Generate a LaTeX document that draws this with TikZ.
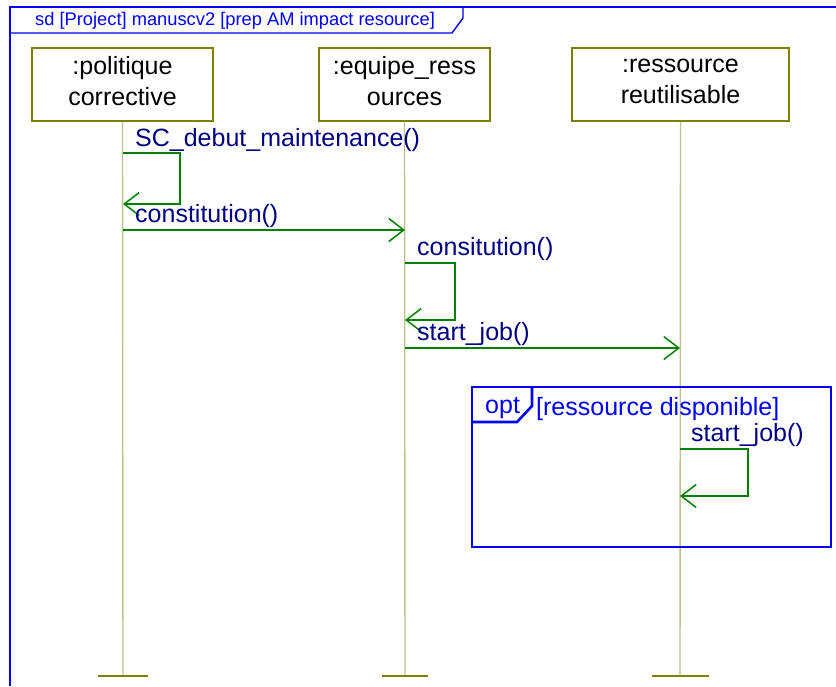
\documentclass[tikz,border=0pt]{standalone}
\usepackage{fontspec}
\setmainfont{Liberation Sans}
\usetikzlibrary{arrows.meta}
\definecolor{framblue}{RGB}{0,0,250}
\definecolor{msgtext}{RGB}{0,0,128}
\definecolor{msggreen}{RGB}{0,128,0}
\definecolor{boxolive}{RGB}{128,128,0}
\definecolor{lifekhaki}{RGB}{192,192,140}
\definecolor{barolive}{RGB}{128,128,0}
\tikzset{
  lifebox/.style={draw=boxolive, line width=1.6pt, fill=white, inner sep=0pt},
  boxtext/.style={inner sep=0pt, font=\fontsize{25}{31}\selectfont, align=center, text=black},
  lifeline/.style={draw=lifekhaki, line width=1.4pt},
  endbar/.style={draw=barolive, line width=2.6pt},
  msg/.style={draw=msggreen, line width=1.5pt, -{Straight Barb[length=15pt,width=23pt,line width=1.5pt]}},
  msglabel/.style={anchor=base west, text=msgtext, font=\fontsize{25}{30}\selectfont, inner sep=0pt},
  frameline/.style={draw=framblue, line width=1.4pt},
  optline/.style={draw=framblue, line width=2.6pt},
}
\begin{document}
\begin{tikzpicture}[x=1pt, y=-1pt]
\useasboundingbox (0,0) rectangle (836,686);

% outer sequence-diagram frame and its title tab
\draw[frameline] (836,7) -- (10,7) -- (10,686);
\draw[frameline] (10,33) -- (452,33) -- (463,18) -- (463,7);
\node[anchor=base west, text=framblue, font=\fontsize{18.3}{22}\selectfont, inner sep=0pt]
  (title) at (35,25) {sd [Project] manuscv2 [prep AM impact resource]};

% lifeline heads
\node[lifebox, minimum width=181pt, minimum height=73pt] (pc) at (122.5,84.5) {};
\node[lifebox, minimum width=171pt, minimum height=73pt] (er) at (404.5,84.5) {};
\node[lifebox, minimum width=217pt, minimum height=73pt] (rr) at (680.5,84.5) {};
\node[boxtext] (pct) at (122.5,81) {:politique\\corrective};
\node[boxtext] (ert) at (404.5,81) {:equipe\_ress\\ources};
\node[boxtext] (rrt) at (680.5,81) {:ressource\\reutilisable};

% lifeline feet
\coordinate (pcend) at (123,676);
\coordinate (erend) at (405,676);
\coordinate (rrend) at (680,676);
\draw[lifeline] (pc.south) -- (pcend);
\draw[lifeline] (er.south) -- (erend);
\draw[lifeline] (rr.south) -- (rrend);
\draw[endbar] (98,676) -- (148,676);
\draw[endbar] (382,676) -- (428,676);
\draw[endbar] (652,676) -- (709,676);

% messages
\coordinate (m1a) at (123,153);
\coordinate (m1b) at (123,204);
\draw[msg] (m1a) -- (180,153) -- (180,204) -- (m1b);
\node[msglabel] (l1) at (135,146) {SC\_debut\_maintenance()};

\coordinate (m2a) at (123,230);
\coordinate (m2b) at (405,230);
\draw[msg] (m2a) -- (m2b);
\node[msglabel] (l2) at (135,222) {constitution()};

\coordinate (m3a) at (405,263);
\coordinate (m3b) at (405,320);
\draw[msg] (m3a) -- (455,263) -- (455,320) -- (m3b);
\node[msglabel] (l3) at (417,255) {consitution()};

\coordinate (m4a) at (405,348);
\coordinate (m4b) at (680,348);
\draw[msg] (m4a) -- (m4b);
\node[msglabel] (l4) at (417,340) {start\_job()};

% optional combined fragment
\draw[optline] (472,387) rectangle (831,547);
\draw[optline] (472,422) -- (517,422) -- (532,406) -- (532,387);
\node[anchor=base west, text=framblue, font=\fontsize{25}{30}\selectfont, inner sep=0pt]
  (optk) at (485,413) {opt};
\node[anchor=base west, text=framblue, font=\fontsize{25}{30}\selectfont, inner sep=0pt]
  (guard) at (536,415) {[ressource disponible]};

\coordinate (m5a) at (680,449);
\coordinate (m5b) at (680,496);
\draw[msg] (m5a) -- (748,449) -- (748,496) -- (m5b);
\node[msglabel] (l5) at (691,441) {start\_job()};
\end{tikzpicture}
\end{document}
